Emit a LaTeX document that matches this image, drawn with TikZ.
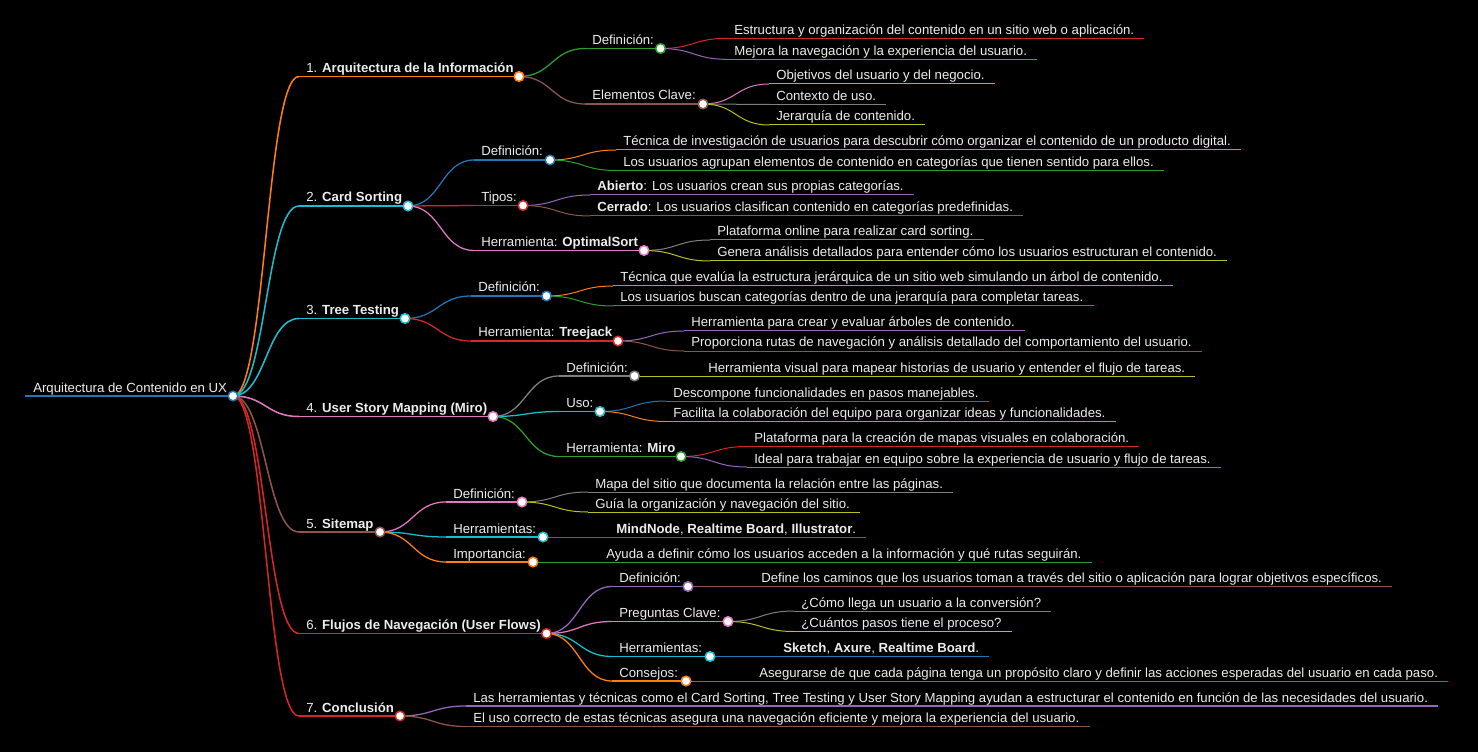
\documentclass[tikz,border=0pt]{standalone}
\usepackage{fontspec}
\setmainfont{Liberation Sans}
\usetikzlibrary{calc}
\pgfdeclarelayer{fg}
\pgfsetlayers{main,fg}
\definecolor{cblue}{HTML}{1F77B4}
\definecolor{corange}{HTML}{FF7F0E}
\definecolor{cgreen}{HTML}{2CA02C}
\definecolor{cred}{HTML}{D62728}
\definecolor{cpurple}{HTML}{9467BD}
\definecolor{cbrown}{HTML}{8C564B}
\definecolor{cpink}{HTML}{E377C2}
\definecolor{cgray}{HTML}{7F7F7F}
\definecolor{colive}{HTML}{BCBD22}
\definecolor{ccyan}{HTML}{17BECF}
\definecolor{textc}{HTML}{EDEDED}
\tikzset{
  txt/.style={anchor=base west, inner sep=0pt, text=textc, font=\fontsize{9.9}{11}\selectfont},
  dot/.style={circle, fill=white, inner sep=0pt, minimum size=7.2pt, line width=1.1pt},
  mlink/.style={to path={let \p1=(\tikztostart), \p2=(\tikztotarget) in
      .. controls ({(\x1+\x2)/2},\y1) and ({(\x1+\x2)/2},\y2) .. (\tikztotarget) \tikztonodes}},
}
\def\curlw{0.75pt}
% inner node: #1 name, #2 parent, #3 colour, #4 text x, #5 line y, #6 circle x, #7 text
\newcommand{\mmin}[7]{%
  \coordinate (#1s) at (#4-7,#5);
  \coordinate (#1c) at (#6,#5);
  \node[txt] (#1t) at (#4,#5-4) {#7};
  \draw[#3, line width=\curlw] (#2c) to[mlink] (#1s);
  \draw[#3, line width=\curlw] (#1s) -- (#1c);
  \begin{pgfonlayer}{fg}\node[dot, draw=#3] (#1d) at (#1c) {};\end{pgfonlayer}
}
% leaf node: #1 name, #2 parent, #3 colour, #4 text x, #5 line y, #6 text
\newcommand{\mmleaf}[6]{%
  \coordinate (#1s) at (#4-7,#5);
  \node[txt] (#1t) at (#4,#5-4) {#6};
  \coordinate (#1e) at ($(#1s -| #1t.east)+(10,0)$);
  \draw[#3, line width=\curlw] (#2c) to[mlink] (#1s);
  \draw[#3, line width=\curlw] (#1s) -- (#1e);
}
\begin{document}
\begin{tikzpicture}[x=0.75pt,y=-0.75pt]
\fill[black] (0,0) rectangle (1478,752);
\useasboundingbox (0,0) rectangle (1478,752);
% root
\coordinate (Rs) at (25,396);
\coordinate (Rc) at (233,396);
\node[txt] (Rt) at (33,392) {Arquitectura de Contenido en UX};
\draw[cblue, line width=1.5pt] (Rs) -- (Rc);
\begin{pgfonlayer}{fg}\node[dot, draw=cblue] (Rd) at (Rc) {};\end{pgfonlayer}
% level 1
\def\curlw{1.15pt}
\mmin{a}{R}{corange}{306}{76.5}{519}{1. \textbf{Arquitectura de la Información}}
\mmin{b}{R}{ccyan}{306}{206}{408}{2. \textbf{Card Sorting}}
\mmin{c}{R}{ccyan}{306}{318.5}{405}{3. \textbf{Tree Testing}}
\mmin{d}{R}{cpink}{306}{416.5}{493}{4. \textbf{User Story Mapping (Miro)}}
\mmin{e}{R}{cbrown}{306}{532}{380}{5. \textbf{Sitemap}}
\mmin{f}{R}{cred}{306}{633.5}{546.5}{6. \textbf{Flujos de Navegación (User Flows)}}
\mmin{g}{R}{cred}{306}{716}{400}{7. \textbf{Conclusión}}
% level 2
\def\curlw{0.95pt}
\mmin{aa}{a}{cgreen}{592}{48.5}{660.5}{Definición:}
\mmin{ab}{a}{cbrown}{592}{104}{703}{Elementos Clave:}
\mmin{ba}{b}{cblue}{481}{160}{550}{Definición:}
\mmin{bb}{b}{cred}{481}{205.5}{523}{Tipos:}
\mmin{bc}{b}{cpink}{481}{250.5}{644}{Herramienta: \textbf{OptimalSort}}
\mmin{ca}{c}{cblue}{478}{296}{546.5}{Definición:}
\mmin{cb}{c}{cred}{478}{341}{618}{Herramienta: \textbf{Treejack}}
\mmin{da}{d}{cgray}{566}{376}{634.5}{Definición:}
\mmin{db}{d}{ccyan}{566}{411.5}{600}{Uso:}
\mmin{dc}{d}{cgreen}{566}{456.5}{681}{Herramienta: \textbf{Miro}}
\mmin{ea}{e}{cpink}{453}{502}{522}{Definición:}
\mmin{eb}{e}{ccyan}{453}{537}{543}{Herramientas:}
\mmin{ec}{e}{corange}{453}{562}{533}{Importancia:}
% level 3
\def\curlw{0.75pt}
\mmleaf{aaa}{aa}{cred}{734}{38.3}{Estructura y organización del contenido en un sitio web o aplicación.}
\mmleaf{aab}{aa}{cpurple}{734}{59.3}{Mejora la navegación y la experiencia del usuario.}
\mmleaf{aba}{ab}{cpink}{776}{84}{Objetivos del usuario y del negocio.}
\mmleaf{abb}{ab}{cgray}{776}{104.5}{Contexto de uso.}
\mmleaf{abc}{ab}{colive}{776}{125}{Jerarquía de contenido.}
\mmleaf{baa}{ba}{corange}{623}{150}{Técnica de investigación de usuarios para descubrir cómo organizar el contenido de un producto digital.}
\mmleaf{bab}{ba}{cgreen}{623}{170.5}{Los usuarios agrupan elementos de contenido en categorías que tienen sentido para ellos.}
\mmleaf{bba}{bb}{cpurple}{597}{195}{\textbf{Abierto}: Los usuarios crean sus propias categorías.}
\mmleaf{bbb}{bb}{cbrown}{597}{216}{\textbf{Cerrado}: Los usuarios clasifican contenido en categorías predefinidas.}
\mmleaf{bca}{bc}{cgray}{717}{240}{Plataforma online para realizar card sorting.}
\mmleaf{bcb}{bc}{colive}{717}{261}{Genera análisis detallados para entender cómo los usuarios estructuran el contenido.}
\mmleaf{caa}{ca}{corange}{620}{286}{Técnica que evalúa la estructura jerárquica de un sitio web simulando un árbol de contenido.}
\mmleaf{cab}{ca}{cgreen}{620}{306}{Los usuarios buscan categorías dentro de una jerarquía para completar tareas.}
\mmleaf{cba}{cb}{cpurple}{691}{331}{Herramienta para crear y evaluar árboles de contenido.}
\mmleaf{cbb}{cb}{cbrown}{691}{351}{Proporciona rutas de navegación y análisis detallado del comportamiento del usuario.}
\mmleaf{daa}{da}{colive}{708}{376}{Herramienta visual para mapear historias de usuario y entender el flujo de tareas.}
\mmleaf{dba}{db}{cblue}{673}{401}{Descompone funcionalidades en pasos manejables.}
\mmleaf{dbb}{db}{corange}{673}{421.5}{Facilita la colaboración del equipo para organizar ideas y funcionalidades.}
\mmleaf{dca}{dc}{cred}{754}{446.5}{Plataforma para la creación de mapas visuales en colaboración.}
\mmleaf{dcb}{dc}{cpurple}{754}{467}{Ideal para trabajar en equipo sobre la experiencia de usuario y flujo de tareas.}
\mmleaf{eaa}{ea}{cgray}{595}{492}{Mapa del sitio que documenta la relación entre las páginas.}
\mmleaf{eab}{ea}{colive}{595}{512}{Guía la organización y navegación del sitio.}
\mmleaf{eba}{eb}{cblue}{616}{537}{\textbf{MindNode}, \textbf{Realtime Board}, \textbf{Illustrator}.}
\mmleaf{eca}{ec}{cgreen}{606}{562}{Ayuda a definir cómo los usuarios acceden a la información y qué rutas seguirán.}
% level 2 of 6
\def\curlw{0.95pt}
\mmin{fa}{f}{cpurple}{619}{586.5}{688}{Definición:}
\mmin{fb}{f}{cpink}{619}{621.5}{728}{Preguntas Clave:}
\mmin{fc}{f}{ccyan}{619}{656.5}{710}{Herramientas:}
\mmin{fd}{f}{corange}{619}{681}{686}{Consejos:}
\def\curlw{0.75pt}
\mmleaf{faa}{fa}{cbrown}{761}{586.5}{Define los caminos que los usuarios toman a través del sitio o aplicación para lograr objetivos específicos.}
\mmleaf{fba}{fb}{cgray}{801}{611}{¿Cómo llega un usuario a la conversión?}
\mmleaf{fbb}{fb}{colive}{801}{631.5}{¿Cuántos pasos tiene el proceso?}
\mmleaf{fca}{fc}{cblue}{783}{656.5}{\textbf{Sketch}, \textbf{Axure}, \textbf{Realtime Board}.}
\mmleaf{fda}{fd}{cgreen}{759}{681}{Asegurarse de que cada página tenga un propósito claro y definir las acciones esperadas del usuario en cada paso.}
\def\curlw{0.95pt}
\mmleaf{ga}{g}{cpurple}{473}{706}{Las herramientas y técnicas como el Card Sorting, Tree Testing y User Story Mapping ayudan a estructurar el contenido en función de las necesidades del usuario.}
\mmleaf{gb}{g}{cbrown}{473}{726.5}{El uso correcto de estas técnicas asegura una navegación eficiente y mejora la experiencia del usuario.}
\end{tikzpicture}
\end{document}
